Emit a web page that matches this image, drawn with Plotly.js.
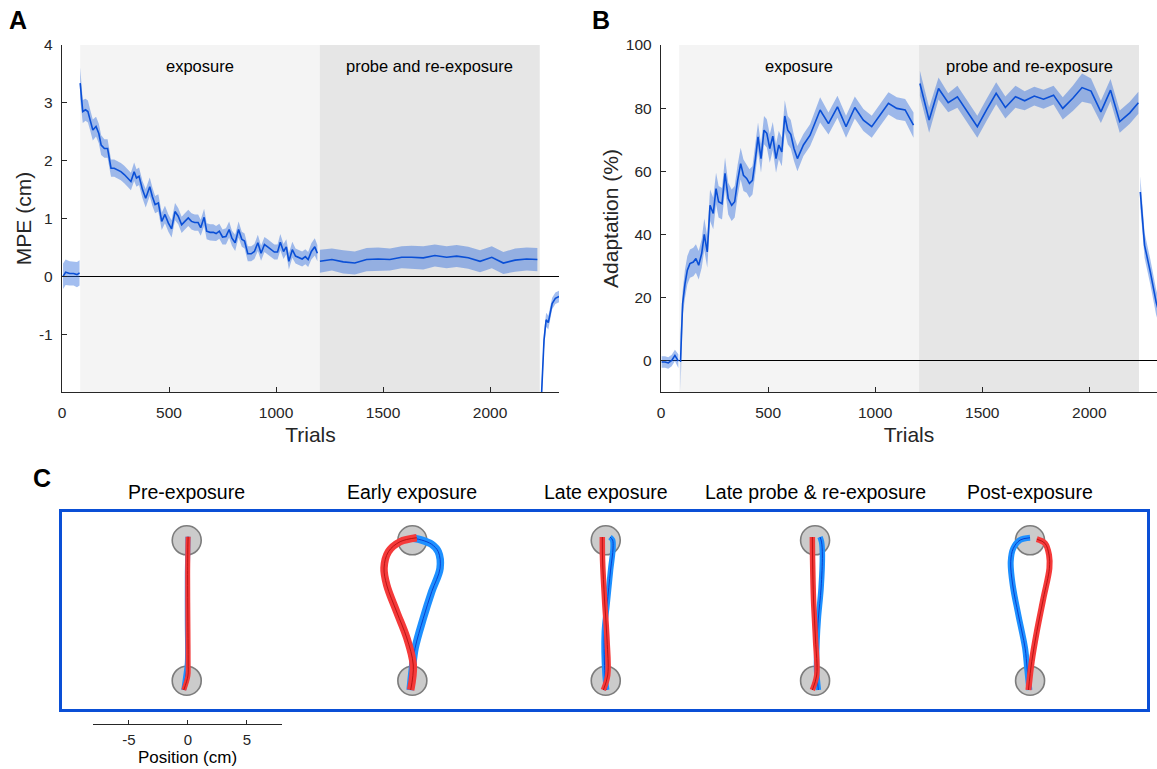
<!DOCTYPE html>
<html><head><meta charset="utf-8">
<script src="https://cdn.plot.ly/plotly-3.0.1.min.js"></script>
<style>html,body{margin:0;padding:0;background:#fff;}#chart{width:1157px;height:769px;}</style>
</head><body><div id="chart"></div>
<script>
// ---------- Phase boundaries (trials) ----------
const exposureStart = 85;
const probeStart = 1205;
const probeEnd = 2232;

// ---------- Panel A: MPE (cm) ----------
const preTrialsA = [5, 17, 36, 54, 70, 82];
const preMPE     = [0.00, 0.07, 0.05, 0.05, 0.03, 0.06];
const preMPEse   = [0.22, 0.22, 0.21, 0.21, 0.22, 0.22];

const expTrialsA = [85,97,110,121,131,144,159,172,183,198,213,229,244,260,275,291,306,322,337,348,360,376,391,410,422,435,450,466,481,497,512,528,543,559,574,590,605,620,636,648,664,676,692,707,720,735,750,766,781,794,809,825,840,853,868,884,899,915,930,946,961,976,992,1007,1020,1035,1048,1060,1076,1091,1106,1122,1137,1150,1165,1181,1193];
const expMPE = [3.34,2.85,2.88,2.85,2.71,2.53,2.59,2.47,2.27,2.21,2.21,1.87,1.87,1.84,1.81,1.76,1.70,1.64,1.81,1.70,1.73,1.50,1.35,1.55,1.38,1.24,1.27,0.95,1.07,0.92,0.82,1.12,1.04,0.89,0.95,1.01,0.95,0.93,0.93,0.84,1.02,0.78,0.76,0.76,0.74,0.78,0.68,0.69,0.81,0.66,0.58,0.81,0.64,0.61,0.39,0.39,0.43,0.58,0.40,0.55,0.51,0.46,0.42,0.42,0.59,0.43,0.51,0.26,0.46,0.35,0.32,0.30,0.34,0.29,0.43,0.51,0.40];
const expMPEse = [0.27,0.2,0.19,0.19,0.18,0.18,0.17,0.17,0.17,0.16,0.16,0.15,0.15,0.15,0.15,0.15,0.15,0.15,0.16,0.15,0.15,0.15,0.16,0.16,0.16,0.15,0.15,0.15,0.15,0.15,0.15,0.15,0.14,0.14,0.14,0.14,0.14,0.14,0.14,0.14,0.15,0.14,0.14,0.14,0.13,0.13,0.13,0.14,0.14,0.13,0.14,0.14,0.13,0.13,0.13,0.13,0.13,0.14,0.13,0.13,0.13,0.13,0.13,0.13,0.14,0.13,0.13,0.14,0.14,0.13,0.13,0.13,0.13,0.13,0.14,0.15,0.14];

const probeTrialsA = [1205,1261,1314,1368,1423,1477,1532,1587,1633,1688,1742,1797,1844,1898,1953,2008,2062,2117,2171,2221];
const probeMPE     = [0.26,0.29,0.25,0.23,0.29,0.30,0.29,0.33,0.33,0.32,0.36,0.33,0.35,0.32,0.26,0.33,0.23,0.28,0.30,0.29];
const probeMPEse   = [0.2,0.19,0.2,0.2,0.2,0.2,0.19,0.19,0.2,0.2,0.19,0.19,0.19,0.19,0.19,0.19,0.19,0.2,0.2,0.2];

const postTrialsA = [2236,2252,2262,2272,2290,2305,2322];
const postMPE     = [-2.4,-1.1,-0.75,-0.8,-0.47,-0.38,-0.35];
const postMPEse   = [0.2,0.15,0.12,0.12,0.1,0.1,0.1];

// ---------- Panel B: Adaptation (%) ----------
const preTrialsB = [3, 19, 34, 50, 65, 81];
const preAdapt   = [-0.5, -0.5, -0.8, 0.0, 1.6, -0.2];
const preAdaptse = [1.8, 1.8, 1.8, 1.8, 1.8, 2.2];

const expTrialsB = [91,101,112,123,135,151,163,176,190,202,216,229,244,257,269,285,299,314,330,344,358,372,385,400,413,427,441,453,467,481,494,508,522,537,550,564,578,592,606,621,637,665,696,743,782,824,864,905,945,984,1023,1062,1101,1140,1179];
const expAdapt = [-0.5,18.0,24.3,28.6,30.7,31.2,32.3,30.2,33.9,40.0,34.4,49.2,46.6,54.5,50.3,49.7,59.3,51.3,49.2,50.3,57.1,62.4,58.7,57.7,56.1,57.1,64.0,70.9,64.0,73.0,72.0,67.2,71.1,64.0,68.3,66.1,77.5,73.0,71.7,67.2,64.0,68.3,71.4,79.4,75.1,80.4,74.1,80.2,76.2,74.1,77.8,81.5,79.9,79.4,74.6];
const expAdaptse = [9,4,4.5,4.5,4.5,4.5,4.5,4.5,4.5,5,5,5,5,5,5,5,5,5,5,5,5,5,5,4.5,4.5,4.5,4.5,4.5,4.5,4.5,4.5,4.5,4.5,4.5,4.5,4.5,5,4.5,4.5,4,4,3.5,3.5,4,3.5,3.5,3.5,3.5,3.5,3.5,3.5,3.5,3.5,3.5,4];

const probeTrialsB = [1209,1252,1296,1341,1384,1430,1477,1520,1565,1608,1655,1698,1743,1786,1833,1876,1923,1966,2008,2054,2099,2142,2189,2229];
const probeAdapt   = [87.8,76.2,86.2,81.7,83.6,78.8,74.1,79.4,84.7,80.2,83.6,82.3,83.8,82.8,84.1,79.9,83.1,86.5,85.4,78.8,85.7,75.7,78.5,81.7];
const probeAdaptse = [4,4,3.5,3,3.5,3.5,3.5,3.5,3.5,3.5,3.5,3,3,3,3,3.5,4,4.5,4,3.5,3.5,3.5,3.5,3.5];

const postTrialsB = [2238,2258,2285,2312,2330];
const postAdapt   = [53.4,36.5,28.0,18.5,14.0];
const postAdaptse = [5,4,4,4,4];

// ---------- Panel C: hand paths (x deviation cm, y along reach cm) ----------
const conditionNames = ['Pre-exposure','Early exposure','Late exposure','Late probe & re-exposure','Post-exposure'];
const targetY = [0, 11.9];

const preBlueX   = [-0.25,-0.1,0.05,0.05,0.05,0.1,0.1];
const preBlueY   = [-0.79,0.3,1.5,5,9,11.5,12.2];
const preRedX    = [-0.25,0.1,0.12,0.1,0.08,0.1,0.12];
const preRedY    = [-0.79,0.4,1.5,5,9,11.5,12.2];

const earlyBlueX = [-0.19,0.0,0.23,0.93,1.64,2.35,2.20,1.64,0.80,0.08];
const earlyBlueY = [-0.79,1.0,2.75,5.29,7.54,9.53,10.93,11.56,11.92,12.07];
const earlyRedX  = [-0.14,0.08,-0.47,-1.32,-2.17,-2.40,-2.03,-1.04,0.37];
const earlyRedY  = [-0.79,1.33,3.62,5.82,8.11,9.55,10.93,11.78,12.12];

const lateBlueX  = [0.08,-0.06,-0.12,0.11,0.41,0.62,0.58,0.36];
const lateBlueY  = [-0.79,0.48,4.13,6.42,9.38,11.25,11.92,12.18];
const lateRedX   = [-0.2,0.17,0.11,-0.10,-0.27,-0.29];
const lateRedY   = [-0.79,0.48,3.45,6.84,10.23,12.18];

const probeBlueX = [0.28,0.13,0.17,0.28,0.51,0.62,0.55,0.42];
const probeBlueY = [-0.79,0.91,3.45,5.31,7.86,10.65,11.75,12.18];
const probeRedX  = [-0.23,0.14,0.04,-0.13,-0.21,-0.23];
const probeRedY  = [-0.79,0.48,3.45,6.84,10.23,12.18];

const postBlueX  = [-0.06,-0.25,-0.42,-0.99,-1.47,-1.64,-1.42,-0.85,0.0];
const postBlueY  = [-0.79,1.08,2.75,5.57,8.11,10.08,11.22,11.92,12.12];
const postRedX   = [-0.14,0.14,0.57,1.13,1.64,1.61,1.27,0.57];
const postRedY   = [-0.79,1.61,4.15,6.98,9.53,10.65,11.64,12.0];

const scaleTicks = [-5, 0, 5];

// ---------- Layout helpers (positions / styles only) ----------
const W = 1157, H = 769;
const px = v => v / W;
const py = v => 1 - v / H;
const colOffsets = [0, 19.12, 35.51, 53.25, 71.47];   // panel C column placement (cm)
const bandWidths = [5, 7.5, 5.5, 5.5, 6];

const LINE = '#0a4fd6';
const BAND = 'rgba(35,100,220,0.42)';
const AX = '#262626';
const FONT = 'Liberation Sans, Arial, Helvetica, sans-serif';

const traces = [];
function seg(xs, ys, se, xa, ya) {
  const up = ys.map((v, i) => v + se[i]);
  const lo = ys.map((v, i) => v - se[i]);
  traces.push({x: xs, y: up, xaxis: xa, yaxis: ya, mode: 'lines', line: {width: 0, color: BAND}, hoverinfo: 'skip'});
  traces.push({x: xs, y: lo, xaxis: xa, yaxis: ya, mode: 'lines', line: {width: 0, color: BAND}, fill: 'tonexty', fillcolor: BAND, hoverinfo: 'skip'});
  traces.push({x: xs, y: ys, xaxis: xa, yaxis: ya, mode: 'lines', line: {width: 1.6, color: LINE}});
}
seg(preTrialsA, preMPE, preMPEse, 'x', 'y');
seg(expTrialsA, expMPE, expMPEse, 'x', 'y');
seg(probeTrialsA, probeMPE, probeMPEse, 'x', 'y');
seg(postTrialsA, postMPE, postMPEse, 'x', 'y');
seg(preTrialsB, preAdapt, preAdaptse, 'x2', 'y2');
seg(expTrialsB, expAdapt, expAdaptse, 'x2', 'y2');
seg(probeTrialsB, probeAdapt, probeAdaptse, 'x2', 'y2');
seg(postTrialsB, postAdapt, postAdaptse, 'x2', 'y2');

// targets
const tX = [], tY = [];
colOffsets.forEach(c => targetY.forEach(y => { tX.push(c); tY.push(y); }));
traces.push({x: tX, y: tY, xaxis: 'x3', yaxis: 'y3', mode: 'markers',
  marker: {size: 29, color: '#cbcbcb', line: {color: '#7c7c7c', width: 1.6}}, hoverinfo: 'skip'});

const paths = [
  [preBlueX, preBlueY, preRedX, preRedY],
  [earlyBlueX, earlyBlueY, earlyRedX, earlyRedY],
  [lateBlueX, lateBlueY, lateRedX, lateRedY],
  [probeBlueX, probeBlueY, probeRedX, probeRedY],
  [postBlueX, postBlueY, postRedX, postRedY]
];
paths.forEach((p, i) => {
  const c = colOffsets[i], w = bandWidths[i];
  const bx = p[0].map(v => v + c), rx = p[2].map(v => v + c);
  traces.push({x: bx, y: p[1], xaxis: 'x3', yaxis: 'y3', mode: 'lines', line: {color: '#1e90ff', width: w, shape: 'spline', smoothing: 1}});
  traces.push({x: bx, y: p[1], xaxis: 'x3', yaxis: 'y3', mode: 'lines', line: {color: '#0a3fd0', width: 1, shape: 'spline', smoothing: 1}});
  traces.push({x: rx, y: p[3], xaxis: 'x3', yaxis: 'y3', mode: 'lines', line: {color: '#f53a3a', width: w, shape: 'spline', smoothing: 1}});
  traces.push({x: rx, y: p[3], xaxis: 'x3', yaxis: 'y3', mode: 'lines', line: {color: '#b81414', width: 1, shape: 'spline', smoothing: 1}});
});
// scale bar axis holder
traces.push({x: [], y: [], xaxis: 'x4', yaxis: 'y4', mode: 'markers'});

const tickFont = {family: FONT, size: 15.5, color: AX};
const titleFont = {family: FONT, size: 21, color: AX};

function xAx(domain, range, anchor) {
  return {domain, range, anchor, showline: true, linecolor: AX, linewidth: 1.2, ticks: 'inside', ticklen: 5, tickcolor: AX,
    tickvals: [0, 500, 1000, 1500, 2000], tickfont: tickFont, ticklabelstandoff: 6, showgrid: false, zeroline: false,
    title: {text: 'Trials', font: titleFont, standoff: 7}, fixedrange: true};
}
function yAx(domain, range, anchor, vals, txt, title) {
  return {domain, range, anchor, showline: true, linecolor: AX, linewidth: 1.2, ticks: 'inside', ticklen: 5, tickcolor: AX,
    tickvals: vals, ticktext: txt, tickfont: tickFont, ticklabelstandoff: 5, showgrid: false,
    zeroline: true, zerolinecolor: '#000', zerolinewidth: 1,
    title: {text: title, font: titleFont, standoff: 1}, fixedrange: true};
}
const yDom = [py(392), py(45)];

const shapes = [];
[['x', 'y'], ['x2', 'y2']].forEach(([xa, ya]) => {
  shapes.push({type: 'rect', xref: xa, yref: ya + ' domain', x0: exposureStart, x1: probeStart, y0: 0, y1: 1, fillcolor: '#f4f4f4', line: {width: 0}, layer: 'below'});
  shapes.push({type: 'rect', xref: xa, yref: ya + ' domain', x0: probeStart, x1: probeEnd, y0: 0, y1: 1, fillcolor: '#e6e6e6', line: {width: 0}, layer: 'below'});
});

const annFont = {family: FONT, size: 16.5, color: '#000'};
const annotations = [];
[['x', 'y'], ['x2', 'y2']].forEach(([xa, ya]) => {
  annotations.push({xref: xa, yref: ya + ' domain', x: (exposureStart + probeStart) / 2, y: 0.94, text: 'exposure', showarrow: false, font: annFont, xanchor: 'center', yanchor: 'middle'});
  annotations.push({xref: xa, yref: ya + ' domain', x: (probeStart + probeEnd) / 2, y: 0.94, text: 'probe and re-exposure', showarrow: false, font: annFont, xanchor: 'center', yanchor: 'middle'});
});
const letterFont = {family: FONT, size: 25, color: '#000'};
annotations.push({xref: 'paper', yref: 'paper', x: px(18), y: py(20), text: '<b>A</b>', showarrow: false, font: letterFont, xanchor: 'center', yanchor: 'middle'});
annotations.push({xref: 'paper', yref: 'paper', x: px(601), y: py(20), text: '<b>B</b>', showarrow: false, font: letterFont, xanchor: 'center', yanchor: 'middle'});
annotations.push({xref: 'paper', yref: 'paper', x: px(42), y: py(478), text: '<b>C</b>', showarrow: false, font: letterFont, xanchor: 'center', yanchor: 'middle'});
conditionNames.forEach((n, i) => {
  annotations.push({xref: 'x3', yref: 'paper', x: colOffsets[i], y: py(492), text: n, showarrow: false,
    font: {family: FONT, size: 19.5, color: '#000'}, xanchor: 'center', yanchor: 'middle'});
});

const layout = {
  width: W, height: H, margin: {l: 0, r: 0, t: 0, b: 0},
  paper_bgcolor: '#fff', plot_bgcolor: 'rgba(0,0,0,0)', showlegend: false,
  font: {family: FONT, color: AX},
  xaxis: xAx([px(62), px(559)], [0, 2322], 'y'),
  yaxis: yAx(yDom, [-2, 4], 'x', [-1, 0, 1, 2, 3, 4], ['-1', '0', '1', '2', '3', '4'], 'MPE (cm)'),
  xaxis2: xAx([px(661), 1], [0, 2316], 'y2'),
  yaxis2: yAx(yDom, [-10, 100], 'x2', [0, 20, 40, 60, 80, 100], ['0', '20', '40', '60', '80', '100'], 'Adaptation (%)'),
  xaxis3: {domain: [px(62), px(1147)], range: [-10.57, 81.38], anchor: 'y3', showline: true, mirror: true,
    linecolor: '#0a4fd6', linewidth: 3, showticklabels: false, ticks: '', showgrid: false, zeroline: false, fixedrange: true},
  yaxis3: {domain: [py(709), py(512)], range: [-2.40, 14.30], anchor: 'x3', showline: true, mirror: true,
    linecolor: '#0a4fd6', linewidth: 3, showticklabels: false, ticks: '', showgrid: false, zeroline: false, fixedrange: true},
  xaxis4: {domain: [px(93), px(282)], range: [-8.05, 7.97], anchor: 'y4', showline: true, linecolor: AX, linewidth: 1.2,
    ticks: 'inside', ticklen: 4, tickcolor: AX, tickvals: scaleTicks, ticktext: scaleTicks.map(String),
    tickfont: {family: FONT, size: 15, color: AX}, ticklabelstandoff: 2, showgrid: false, zeroline: false,
    title: {text: 'Position (cm)', font: {family: FONT, size: 17, color: '#000'}, standoff: 2}, fixedrange: true},
  yaxis4: {domain: [py(724), py(700)], range: [0, 1], anchor: 'x4', visible: false, fixedrange: true},
  shapes, annotations
};

Plotly.newPlot('chart', traces, layout, {displayModeBar: false, staticPlot: true});
</script></body></html>
